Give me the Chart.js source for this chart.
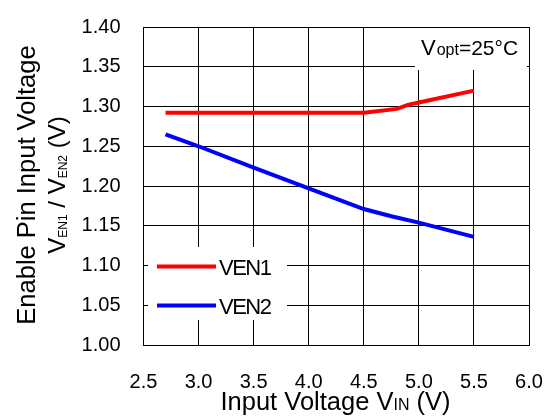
<!DOCTYPE html>
<html>
<head>
<meta charset="utf-8">
<script src="https://cdn.jsdelivr.net/npm/chart.js@4.4.0/dist/chart.umd.min.js"></script>
<style>
  html, body { margin: 0; padding: 0; background: #fff; }
  #wrap { width: 549px; height: 417px; }
</style>
</head>
<body>
<div id="wrap"><canvas id="chart" width="549" height="417"></canvas></div>
<script>
// Data
const ven1X = [2.7, 3.0, 3.5, 4.0, 4.5, 4.8, 4.9, 5.0, 5.5];
const ven1Y = [1.292, 1.292, 1.292, 1.292, 1.292, 1.297, 1.302, 1.305, 1.320];

const ven2X = [2.7, 3.0, 3.5, 4.0, 4.5, 4.75, 5.0, 5.5];
const ven2Y = [1.265, 1.250, 1.223, 1.197, 1.171, 1.162, 1.154, 1.136];

const xTicks = [2.5, 3.0, 3.5, 4.0, 4.5, 5.0, 5.5, 6.0];
const yTicks = [1.00, 1.05, 1.10, 1.15, 1.20, 1.25, 1.30, 1.35, 1.40];

const seriesNames = ['VEN1', 'VEN2'];
const seriesColors = ['#ff0000', '#0000ff'];

const FONT = '"Liberation Sans", Arial, sans-serif';

function pts(xs, ys) {
    return xs.map((x, i) => ({ x: x, y: ys[i] }));
}

// text with subscript parts: [[text, isSub], ...]
function richWidth(ctx, parts, size, subSize) {
    let w = 0;
    parts.forEach(p => {
        ctx.font = (p[1] ? subSize : size) + 'px ' + FONT;
        w += ctx.measureText(p[0]).width;
    });
    return w;
}

function drawRich(ctx, parts, x, y, size, subSize, subDrop) {
    let cx = x;
    parts.forEach(p => {
        ctx.font = (p[1] ? subSize : size) + 'px ' + FONT;
        ctx.fillText(p[0], cx, p[1] ? y + subDrop : y);
        cx += ctx.measureText(p[0]).width;
    });
}

// ------ boxes (annotation + legend) drawn over grid, under lines
const boxesPlugin = {
    id: 'boxes',
    beforeDatasetsDraw(chart) {
        const ctx = chart.ctx;
        ctx.save();
        ctx.fillStyle = '#fff';
        // annotation box
        ctx.fillRect(415, 28, 112, 42);
        // legend box
        ctx.fillRect(148, 247, 139, 73);
        ctx.restore();
    },
    afterDraw(chart) {
        const ctx = chart.ctx;
        const ys = chart.scales.y;
        ctx.save();
        ctx.fillStyle = '#000';
        ctx.textBaseline = 'alphabetic';
        ctx.textAlign = 'left';

        // Vopt=25°C
        let cx = 421;
        ctx.font = '22px ' + FONT;
        ctx.fillText('V', cx, 55);
        cx += ctx.measureText('V').width + 1;
        ctx.font = '16px ' + FONT;
        ctx.fillText('opt', cx, 55);
        cx += ctx.measureText('opt').width;
        ctx.font = '21px ' + FONT;
        ctx.fillText('=25°C', cx, 55);

        // legend
        const legY = [266.5, 305.5];
        chart.data.datasets.forEach((ds, i) => {
            ctx.strokeStyle = ds.borderColor;
            ctx.lineWidth = 4;
            ctx.beginPath();
            ctx.moveTo(157, legY[i]);
            ctx.lineTo(216, legY[i]);
            ctx.stroke();
            ctx.font = '22px ' + FONT;
            ctx.letterSpacing = '-1.5px';
            ctx.fillText(ds.label, 219, legY[i] + 8.5);
            ctx.letterSpacing = '0px';
        });

        // axis titles
        const xt = [['Input Voltage V', false], ['IN', true], [' (V)', false]];
        let w = richWidth(ctx, xt, 25.5, 16);
        drawRich(ctx, xt, 335.5 - w / 2, 410, 25.5, 16, 0);

        const cy = (ys.top + ys.bottom) / 2 - 1;
        ctx.translate(0, cy);
        ctx.rotate(-Math.PI / 2);
        ctx.font = '25.5px ' + FONT;
        ctx.textAlign = 'center';
        ctx.fillText('Enable Pin Input Voltage', 0, 35);
        ctx.textAlign = 'left';
        const yt = [['V', false], ['EN1', true], [' / V', false], ['EN2', true], [' (V)', false]];
        w = richWidth(ctx, yt, 24, 12);
        drawRich(ctx, yt, -w / 2, 65, 24, 12, 2);
        ctx.restore();
    }
};

const ctx = document.getElementById('chart');
const chart = new Chart(ctx, {
    type: 'line',
    data: {
        datasets: [{
            label: seriesNames[0],
            data: pts(ven1X, ven1Y),
            borderColor: seriesColors[0],
            borderWidth: 4,
            pointRadius: 0,
            tension: 0
        }, {
            label: seriesNames[1],
            data: pts(ven2X, ven2Y),
            borderColor: seriesColors[1],
            borderWidth: 4,
            pointRadius: 0,
            tension: 0
        }]
    },
    options: {
        responsive: false,
        animation: false,
        layout: { padding: { left: 0, top: 27, right: 20, bottom: 0 } },
        plugins: {
            legend: { display: false },
            tooltip: { enabled: false }
        },
        scales: {
            x: {
                type: 'linear',
                min: 2.5,
                max: 6.0,
                afterBuildTicks: (s) => { s.ticks = xTicks.map(v => ({ value: v })); },
                afterFit: (s) => { s.height = 72; s.paddingLeft = 0; s.paddingRight = 0; },
                grid: { color: '#000', lineWidth: 1, drawTicks: false },
                border: { color: '#000', width: 1 },
                ticks: {
                    padding: 25,
                    color: '#000',
                    font: { family: FONT, size: 20 },
                    callback: (v) => v.toFixed(1)
                }
            },
            y: {
                type: 'linear',
                min: 1.0,
                max: 1.4,
                afterBuildTicks: (s) => { s.ticks = yTicks.map(v => ({ value: v })); },
                afterFit: (s) => { s.width = 143.5; s.paddingTop = 0; s.paddingBottom = 0; },
                grid: { color: '#000', lineWidth: 1, drawTicks: false },
                border: { color: '#000', width: 1 },
                ticks: {
                    padding: 23,
                    color: '#000',
                    font: { family: FONT, size: 20 },
                    callback: (v) => v.toFixed(2)
                }
            }
        }
    },
    plugins: [boxesPlugin]
});
</script>
</body>
</html>
